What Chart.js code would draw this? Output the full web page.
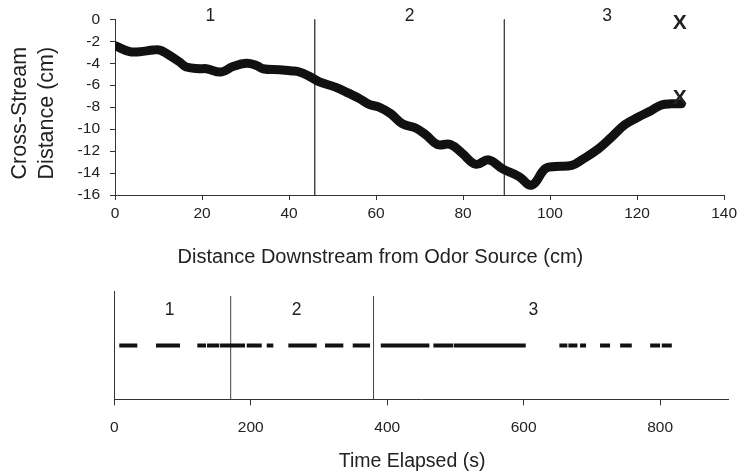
<!DOCTYPE html>
<html>
<head>
<meta charset="utf-8">
<script src="https://cdn.jsdelivr.net/npm/chart.js@4.4.1/dist/chart.umd.min.js"></script>
<style>
  body { margin: 0; background: #fff; }
  canvas { position: absolute; left: 0; }
  #topChart { top: 0; }
  #bottomChart { top: 270px; }
</style>
</head>
<body>
<canvas id="topChart" width="741" height="269"></canvas>
<canvas id="bottomChart" width="741" height="206"></canvas>
<script>
// ===== data: path of the animal (top panel) =====
const pathX = [0, 3.4, 5.7, 8.8, 10.3, 11.8, 14.9, 16.4, 19.5, 21, 24.4, 27.1, 30.2, 32.5, 34, 37.8, 40.8, 42.4,
  44.7, 47, 50.8, 53.8, 56.1, 58.4, 60.7, 63.4, 66, 69.1, 71.4, 74.1, 77.1, 79.8, 82.9, 85.9, 89, 92.8, 95.8,
  98.9, 101.2, 105, 107.3, 111.1, 114.2, 117.2, 120.3, 123.3, 125.6, 127.9, 130.2];
const pathY = [-2.4, -2.95, -2.95, -2.8, -2.8, -3.1, -3.9, -4.35, -4.5, -4.5, -4.8, -4.3, -4.0, -4.2, -4.5, -4.6, -4.7, -4.8,
  -5.2, -5.7, -6.2, -6.75, -7.2, -7.75, -8.0, -8.6, -9.5, -9.9, -10.5, -11.4, -11.4, -12.2, -13.2, -12.8, -13.6, -14.3, -15.1,
  -13.6, -13.4, -13.3, -12.8, -11.8, -10.7, -9.6, -8.9, -8.3, -7.8, -7.7, -7.7];
const topBounds = [45.9, 89.5];
const topRegions = ["1", "2", "3"];
const topRegionX = [21.9, 67.7, 113.1];
const markX = [129.8, 129.8];
const markY = [-0.32, -7.2];

// ===== data: contact with odor over time (bottom panel) =====
const segStart = [7.3, 61.1, 121.7, 135.9, 155, 194.1, 223.4, 255.1, 308.9, 349.5, 390.6, 467.7, 497.5,
  652.4, 665.6, 682.7, 712, 741.4, 785.4, 802.5];
const segEnd = [33.7, 96.3, 134.4, 153.9, 191.6, 216.1, 233.1, 296.7, 335.7, 374.9, 461.8, 496.5, 603.1,
  664.1, 678.8, 691.5, 726.7, 758.5, 800, 817.2];
const bottomBounds = [170.6, 380];
const bottomRegionX = [80.9, 267.4, 614.3];

const FONT = "'Liberation Sans', Arial, sans-serif";
const INK = "#222";
const AXIS = "#333";

// ===== helper: text drawn at data coords =====
function textMarks(items, xTitle) {
  return {
    id: "textMarks",
    afterDatasetsDraw(chart) {
      const { ctx, scales: { x, y } } = chart;
      ctx.save();
      ctx.fillStyle = INK;
      ctx.textAlign = "center";
      ctx.textBaseline = "middle";
      items.forEach(it => {
        ctx.font = it.font;
        ctx.fillText(it.text, x.getPixelForValue(it.x), y.getPixelForValue(it.y));
      });
      // x axis title, sitting a bit left of the axis centre like the original
      ctx.font = xTitle.font;
      ctx.fillText(xTitle.text, x.getPixelForValue(xTitle.at), x.bottom - xTitle.up);
      ctx.restore();
    }
  };
}

function vLine(x, y0, y1) {
  return {
    data: [{ x, y: y0 }, { x, y: y1 }],
    borderColor: "#444",
    borderWidth: 1,
    pointRadius: 0
  };
}

// ===== top chart =====
const topSets = [{
  data: pathX.map((x, i) => ({ x, y: pathY[i] })),
  borderColor: "#111",
  borderWidth: 9,
  borderCapStyle: "round",
  borderJoinStyle: "round",
  tension: 0.4,
  pointRadius: 0
}];
topBounds.forEach(b => topSets.push(vLine(b, 0, -16)));

const topLabels = topRegions.map((t, i) => ({ text: t, x: topRegionX[i], y: 0.25, font: "17.5px " + FONT }));
markX.forEach((x, i) => topLabels.push({ text: "X", x, y: markY[i], font: "bold 21px " + FONT }));

new Chart(document.getElementById("topChart"), {
  type: "line",
  data: { datasets: topSets },
  options: {
    responsive: false,
    animation: false,
    layout: { padding: { left: 0, right: 14.3, top: 19, bottom: 0 } },
    plugins: { legend: { display: false }, tooltip: { enabled: false } },
    scales: {
      x: {
        type: "linear", min: 0, max: 140,
        ticks: { stepSize: 20, padding: 4, color: INK, font: { family: FONT, size: 15.5 } },
        grid: { drawOnChartArea: false, tickLength: 5, color: AXIS },
        border: { color: AXIS },
        afterFit(s) { s.height = 74; }
      },
      y: {
        min: -16, max: 0,
        ticks: { stepSize: 2, padding: 10, color: INK, font: { family: FONT, size: 15.5 } },
        grid: { drawOnChartArea: false, tickLength: 5, color: AXIS },
        border: { color: AXIS },
        title: { display: true, text: ["Cross-Stream  ", "Distance (cm)  "], color: INK,
          font: { family: FONT, size: 21.5, lineHeight: 1.26 }, padding: { top: 6.5, bottom: 0 } },
        afterFit(s) { s.width = 115; }
      }
    }
  },
  plugins: [textMarks(topLabels, {
    text: "Distance Downstream from Odor Source (cm)", at: 61, up: 12, font: "20px " + FONT })]
});

// ===== bottom chart =====
const bottomSets = segStart.map((s, i) => ({
  data: [{ x: s, y: 1 }, { x: segEnd[i], y: 1 }],
  borderColor: "#111",
  borderWidth: 4,
  borderCapStyle: "butt",
  pointRadius: 0
}));
bottomBounds.forEach(b => bottomSets.push(vLine(b, 0, 1.92)));

const bottomLabels = topRegions.map((t, i) => ({ text: t, x: bottomRegionX[i], y: 1.65, font: "17.5px " + FONT }));

new Chart(document.getElementById("bottomChart"), {
  type: "line",
  data: { datasets: bottomSets },
  options: {
    responsive: false,
    animation: false,
    layout: { padding: { left: 0, right: 12.7, top: 21.7, bottom: 2.3 } },
    plugins: { legend: { display: false }, tooltip: { enabled: false } },
    scales: {
      x: {
        type: "linear", min: 0, max: 900,
        afterBuildTicks(s) { s.ticks = s.ticks.filter(t => t.value % 200 === 0); },
        ticks: { stepSize: 200, padding: 13, color: INK, font: { family: FONT, size: 15.5 } },
        grid: { drawOnChartArea: false, tickLength: 6, color: AXIS },
        border: { color: AXIS },
        afterFit(s) { s.height = 74.4; }
      },
      y: {
        min: 0, max: 2,
        ticks: { display: false },
        grid: { display: false },
        border: { color: AXIS },
        afterFit(s) { s.width = 114.3; }
      }
    }
  },
  plugins: [textMarks(bottomLabels, { text: "Time Elapsed (s)", at: 436.5, up: 11.7, font: "19.5px " + FONT })]
});
</script>
</body>
</html>
